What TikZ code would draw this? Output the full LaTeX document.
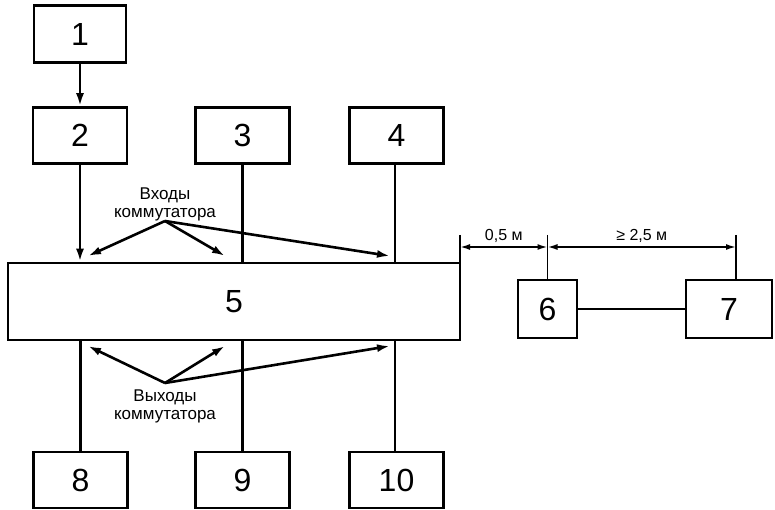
\documentclass[tikz,border=0pt]{standalone}
\usepackage{fontspec}
\setmainfont{Liberation Sans}
\usetikzlibrary{arrows.meta}
\newcommand*{\bh}{56}

\begin{document}
\begin{tikzpicture}[
   x=1pt, y=-1pt,
   blk/.style={rectangle, draw=black, line width=2.6pt, font=\fontsize{32}{32}\selectfont,
               inner sep=0, minimum width=94, minimum height=\bh},
   smallblk/.style={rectangle, draw=black, line width=2.6pt, font=\fontsize{32}{32}\selectfont,
                    inner sep=0, minimum width=59, minimum height=58},
   note/.style={align=center, font=\fontsize{17}{18}\selectfont},
   wire/.style={line width=2.6pt},
   dim/.style={line width=1.7pt},
   >={Latex[length=13pt, width=8pt]}
  ]

  \useasboundingbox (0, 0) rectangle (775, 510);

  % Upper row
  \node (b1) at (80, 34) [blk, minimum width=92, minimum height=57] {1};
  \node (b2) at (80, 135.5) [blk] {2};
  \node (b3) at (242.5, 135.5) [blk] {3};
  \node (b4) at (396.5, 135.5) [blk] {4};

  % Switch
  \node (b5) at (234, 301.5) [blk, minimum width=452, minimum height=77] {5};

  % Lower row
  \node (b8) at (80.5, 480) [blk] {8};
  \node (b9) at (242.5, 480) [blk] {9};
  \node (b10) at (396.5, 480) [blk] {10};

  % Right side
  \node (b6) at (547.5, 309) [smallblk] {6};
  \node (b7) at (729, 309) [smallblk, minimum width=86] {7};

  \draw[->, wire] (b1) -- (b2);
  \draw[->, wire] (b2.south) -- (b2.south |- b5.north);
  \draw[wire] (b3.south) -- (b3.south |- b5.north);
  \draw[wire] ([xshift=-1.5]b4.south) -- ([xshift=-1.5]b4.south |- b5.north);

  \draw[wire] (b8.north) -- (b8.north |- b5.south);
  \draw[wire] (b9.north) -- (b9.north |- b5.south);
  \draw[wire] ([xshift=-1.5]b10.north) -- ([xshift=-1.5]b10.north |- b5.south);

  \draw[wire] (b6) -- (b7);

  % Inputs / outputs
  \node (in) at (165, 204) [note] {Входы\\коммутатора};
  \coordinate (inc) at (165, 221);
  \node (out) at (165, 406) [note] {Выходы\\коммутатора};
  \coordinate (outc) at (165, 383);

  \foreach \X in {88, 225, 390} {
    \draw[->, wire] (inc) -- (\X, 256);
    \draw[->, wire] (outc) -- (\X, 346);
  }

  % Distances
  \coordinate (d0) at (460, 235);
  \coordinate (d1) at (547.5, 235);
  \coordinate (d2) at (736, 235);
  \draw[dim] (d0) -- (d0 |- b5.north);
  \draw[dim] (d1) -- (b6.north);
  \draw[dim] (d2) -- (d2 |- b7.north);
  \draw[<->, dim, >={Latex[length=10pt, width=6pt]}]
    ([yshift=-12]d0) -- node[above=0, font=\fontsize{16}{16}\selectfont] {0,5 м} ([yshift=-12]d1);
  \draw[<->, dim, >={Latex[length=10pt, width=6pt]}]
    ([yshift=-12]d1) -- node[above=0, font=\fontsize{16}{16}\selectfont] {≥ 2,5 м} ([yshift=-12]d2);

\end{tikzpicture}
\end{document}
